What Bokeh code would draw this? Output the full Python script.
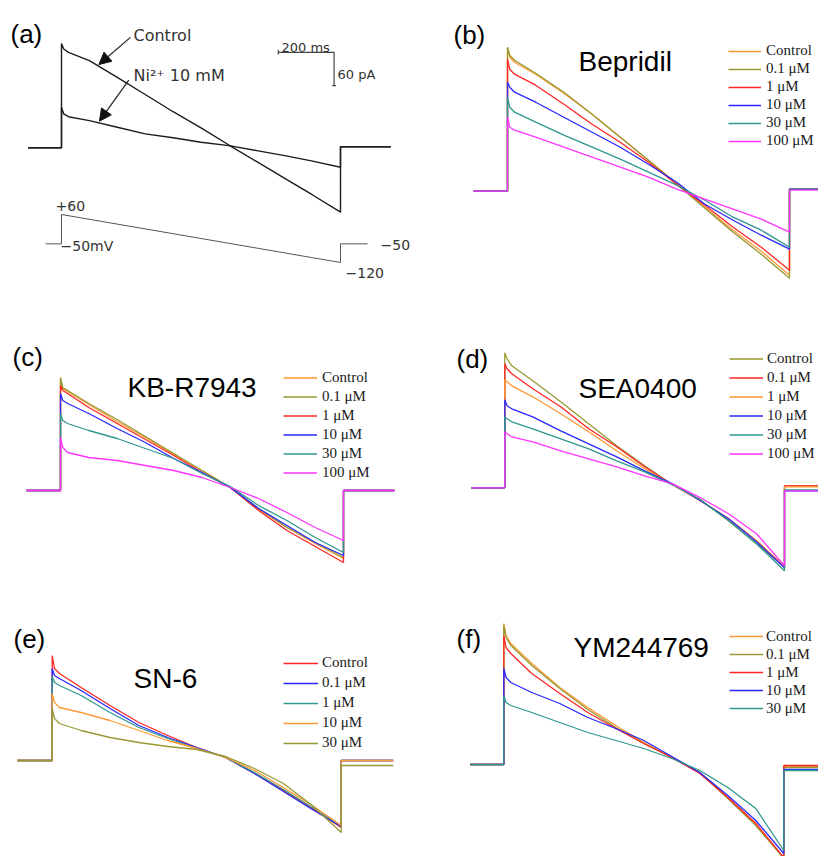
from bokeh.plotting import figure
from bokeh.models import Range1d, Label, Legend, LegendItem, Arrow, NormalHead
from bokeh.layouts import gridplot
from bokeh.embed import file_html
from bokeh.resources import INLINE

# ---------------- data ----------------
# sample times (ms) along the ramp: step to +60 mV at 0 ms, ramp down to -120 mV at 1000 ms
t_ramp = [0, 8, 25, 100, 200, 300, 400, 500, 600, 700, 800, 900, 1000]
t_pre = -120      # start of the holding-current trace (ms)
t_post = 1180     # end of the holding-current trace (ms)

# (a) NCX current, pA
a_control = [188, 178, 172, 157, 127, 96, 65, 36, 5, -25, -55, -85, -116]
a_ni = [73, 61, 56, 49, 37, 25, 18, 10, 4, -5, -14, -24, -35]
a_post = [2, 2]
a_labels = ["Control", "Ni²⁺ 10 mM"]
# voltage protocol of (a)
vc_t = [-57, 0, 0, 1000, 1000, 1097]
vc_mv = [-50, -50, 60, -120, -50, -50]
vc_labels = ["+60", "−50mV", "−50", "−120"]
scale_ms = 200
scale_pa = 60

# (b) Bepridil (relative current)
b_labels = ["Control", "0.1 μM", "1 μM", "10 μM", "30 μM", "100 μM"]
b_control = [143, 134, 129, 117, 98, 77, 54, 31, 8, -16, -39, -60, -84]
b_01 = [144, 136, 131, 118, 99, 77, 54, 31, 7, -17, -41, -63, -87]
b_1 = [132, 122, 117, 106, 87, 67, 49, 29, 7, -14, -36, -56, -79]
b_10 = [109, 104, 99, 89, 74, 59, 44, 27, 9, -13, -29, -44, -58]
b_30 = [94, 84, 79, 69, 56, 44, 32, 19, 6, -9, -26, -39, -56]
b_100 = [74, 64, 61, 54, 44, 34, 24, 14, 2, -8, -18, -28, -41]
b_post = [2, 2, 2, 2, 2, 1]

# (c) KB-R7943
c_labels = ["Control", "0.1 μM", "1 μM", "10 μM", "30 μM", "100 μM"]
c_control = [110, 102, 99, 86, 69, 53, 36, 20, 3, -19, -37, -53, -68]
c_01 = [113, 103, 100, 87, 71, 54, 37, 20, 3, -18, -37, -52, -67]
c_1 = [105, 100, 97, 83, 67, 51, 35, 18, 3, -20, -40, -56, -72]
c_10 = [97, 90, 87, 77, 62, 48, 32, 18, 3, -18, -35, -52, -65]
c_30 = [77, 70, 67, 60, 52, 42, 32, 17, 4, -15, -30, -47, -62]
c_100 = [53, 43, 38, 33, 30, 25, 20, 13, 3, -8, -22, -37, -50]
c_post = [0, 0, 0, 0, 0, 0]

# (d) SEA0400
d_labels = ["Control", "0.1 μM", "1 μM", "10 μM", "30 μM", "100 μM"]
d_control = [135, 129, 122, 107, 86, 64, 42, 22, 3, -12, -33, -56, -79]
d_01 = [124, 119, 114, 99, 81, 59, 41, 21, 3, -13, -31, -53, -79]
d_1 = [108, 106, 102, 91, 74, 56, 37, 19, 3, -13, -31, -53, -79]
d_10 = [88, 82, 79, 71, 57, 44, 31, 17, 4, -13, -31, -54, -80]
d_30 = [71, 69, 66, 59, 49, 39, 27, 16, 3, -12, -33, -56, -83]
d_100 = [56, 54, 51, 46, 37, 29, 21, 12, 4, -10, -26, -46, -78]
d_post = [2, 2, 1, -3, -2, -3]

# (e) SN-6
e_labels = ["Control", "0.1 μM", "1 μM", "10 μM", "30 μM"]
e_control = [105, 92, 87, 73, 55, 38, 25, 13, 3, -13, -30, -48, -67]
e_01 = [92, 85, 82, 70, 52, 35, 23, 13, 3, -13, -31, -49, -66]
e_1 = [84, 78, 75, 65, 48, 33, 22, 12, 3, -12, -29, -47, -65]
e_10 = [67, 58, 53, 48, 40, 30, 20, 12, 3, -10, -27, -45, -65]
e_30 = [52, 42, 37, 30, 23, 18, 14, 11, 4, -8, -23, -45, -72]
e_post = [0, 0, 0, 0, -5]

# (f) YM244769
f_labels = ["Control", "0.1 μM", "1 μM", "10 μM", "30 μM"]
f_control = [141, 129, 121, 101, 77, 57, 39, 22, 7, -8, -33, -59, -94]
f_01 = [139, 127, 119, 99, 76, 55, 37, 21, 7, -8, -34, -61, -94]
f_1 = [129, 117, 111, 91, 71, 52, 36, 21, 7, -9, -33, -59, -93]
f_10 = [96, 87, 82, 72, 61, 47, 36, 24, 8, -8, -31, -56, -89]
f_30 = [69, 62, 59, 52, 42, 32, 24, 16, 6, -6, -23, -44, -86]
f_post = [-2, -3, -1, -5, -6]

# ---------------- styles ----------------
ORANGE = "#FF9933"
OLIVE = "#999933"
RED = "#FF2525"
BLUE = "#2828FF"
TEAL = "#2E978E"
MAGENTA = "#FF33FF"
SANS = "Liberation Sans"
SERIF = "Liberation Serif"
DV = "DejaVu Sans"


def trace_xy(vals, post):
    xs = [t_pre, 0] + t_ramp + [t_ramp[-1], t_post]
    ys = [0, 0] + list(vals) + [post, post]
    return xs, ys


def make_panel(w, h, onset_px, ms_px, base_px, unit_px):
    xr = Range1d(-onset_px / ms_px, (w - onset_px) / ms_px)
    yr = Range1d(-(h - base_px) / unit_px, base_px / unit_px)
    p = figure(width=w, height=h, x_range=xr, y_range=yr,
               x_axis_type=None, y_axis_type=None,
               output_backend="svg", toolbar_location=None,
               min_border=0, outline_line_color=None,
               background_fill_color="white", border_fill_color="white")
    p.grid.visible = False
    return p


def put_text(p, origin, h, x, y, text, font, size, color="black", align="left"):
    p.add_layout(Label(x=x - origin[0], y=h - (y - origin[1]),
                       x_units="screen", y_units="screen", text=text,
                       text_font=font, text_font_size=size, text_color=color,
                       text_baseline="alphabetic", text_align=align))


def drug_panel(origin, w, h, onset_x, ms_px, base_y, series, posts, labels, colors,
               letter, letter_xy, title, title_xy, leg_x, leg_top, leg_h, glyph_w, standoff):
    p = make_panel(w, h, onset_x - origin[0], ms_px, base_y - origin[1], 1.0)
    items = []
    for vals, post, lab, col in zip(series, posts, labels, colors):
        xs, ys = trace_xy(vals, post)
        r = p.line(xs, ys, line_color=col, line_width=1.3)
        items.append(LegendItem(label=lab, renderers=[r]))
    n = len(items)
    loc = (leg_x - origin[0], h - (leg_top - origin[1]) - n * leg_h)
    leg = Legend(items=items, location=loc, glyph_width=glyph_w, glyph_height=leg_h,
                 label_height=leg_h, label_standoff=standoff, spacing=0, padding=0, margin=0,
                 border_line_color=None, background_fill_alpha=0,
                 label_text_font=SERIF, label_text_font_size="15px", label_text_color="#1a1a1a")
    p.add_layout(leg)
    put_text(p, origin, h, letter_xy[0], letter_xy[1], letter, SANS, "26px")
    put_text(p, origin, h, title_xy[0], title_xy[1], title, SANS, "28px")
    return p


WL, WR = 413, 405
H1, H2, H3 = 290, 290, 276

# ---------------- panel (a) ----------------
oa = (0, 0)
pa = make_panel(WL, H1, 61 - oa[0], 0.279, 147.3 - oa[1], 0.555)
# mV axis: +60 mV at y=214 px, -120 mV at y=262 px (from top)
mv_px = (262 - 214) / 180.0
pa.extra_y_ranges = {"mv": Range1d(-120 - (H1 - 262) / mv_px, 60 + 214 / mv_px)}
for vals in (a_control, a_ni):
    xs, ys = trace_xy(vals, a_post[0])
    pa.line(xs, ys, line_color="#1c1c1c", line_width=1.4)
pa.line(vc_t, vc_mv, y_range_name="mv", line_color="#555555", line_width=1.0)
# scale bar
sb_t0, sb_i0 = 777, 172
pa.line([sb_t0, sb_t0 + scale_ms, sb_t0 + scale_ms], [sb_i0, sb_i0, sb_i0 - scale_pa],
        line_color="#444444", line_width=1.2)
pa.segment([sb_t0, sb_t0 + scale_ms - 7], [sb_i0 - 4, sb_i0 - scale_pa],
           [sb_t0, sb_t0 + scale_ms + 7], [sb_i0 + 4, sb_i0 - scale_pa],
           line_color="#444444", line_width=1.2)
head = dict(size=12, fill_color="#111111", line_color="#111111")
pa.add_layout(Arrow(end=NormalHead(**head), x_start=247, y_start=199, x_end=134, y_end=150,
                    line_color="#222222", line_width=1.2))
pa.add_layout(Arrow(end=NormalHead(**head), x_start=241, y_start=122, x_end=136, y_end=48,
                    line_color="#222222", line_width=1.2))
put_text(pa, oa, H1, 10, 33, "(a)", SANS, "26px")
put_text(pa, oa, H1, 133, 35, a_labels[0], DV, "16px", "#333333")
put_text(pa, oa, H1, 133, 75, a_labels[1], DV, "16px", "#333333")
put_text(pa, oa, H1, 281, 46.5, f"{scale_ms} ms", DV, "13px", "#333333")
put_text(pa, oa, H1, 337, 74, f"{scale_pa} pA", DV, "13px", "#333333")
put_text(pa, oa, H1, 55, 205, vc_labels[0], DV, "14px", "#333333")
put_text(pa, oa, H1, 60, 245, vc_labels[1], DV, "14px", "#333333")
put_text(pa, oa, H1, 380, 244, vc_labels[2], DV, "14px", "#333333")
put_text(pa, oa, H1, 345, 272, vc_labels[3], DV, "14px", "#333333")

# ---------------- panels (b)-(f) ----------------
pb = drug_panel((413, 0), WR, H1, 507, 0.282, 190.7,
                [b_control, b_01, b_1, b_10, b_30, b_100], b_post, b_labels,
                [ORANGE, OLIVE, RED, BLUE, TEAL, MAGENTA],
                "(b)", (453, 34.5), "Bepridil", (578, 61),
                728, 41.5, 18, 33, 5)

pc = drug_panel((0, 290), WL, H2, 60, 0.283, 490,
                [c_control, c_01, c_1, c_10, c_30, c_100], c_post, c_labels,
                [ORANGE, OLIVE, RED, BLUE, TEAL, MAGENTA],
                "(c)", (12, 356), "KB-R7943", (127, 386.5),
                283, 367.5, 19, 34, 5)

pd = drug_panel((413, 290), WR, H2, 504.3, 0.2797, 487.3,
                [d_control, d_01, d_1, d_10, d_30, d_100], d_post, d_labels,
                [OLIVE, RED, ORANGE, BLUE, TEAL, MAGENTA],
                "(d)", (456, 358), "SEA0400", (578, 388),
                729, 349, 19, 34, 4)

pe = drug_panel((0, 580), WL, H3, 51.7, 0.289, 760,
                [e_control, e_01, e_1, e_10, e_30], e_post, e_labels,
                [RED, BLUE, TEAL, ORANGE, OLIVE],
                "(e)", (13, 638), "SN-6", (133, 678),
                283, 652.5, 20, 35, 4)

pf = drug_panel((413, 580), WR, H3, 503.3, 0.28, 764,
                [f_control, f_01, f_1, f_10, f_30], f_post, f_labels,
                [ORANGE, OLIVE, RED, BLUE, TEAL],
                "(f)", (456, 638), "YM244769", (573, 647),
                729, 627, 18, 34, 3)

grid = gridplot([[pa, pb], [pc, pd], [pe, pf]], toolbar_location=None)

open("out.html", "w").write(file_html(grid, INLINE))
